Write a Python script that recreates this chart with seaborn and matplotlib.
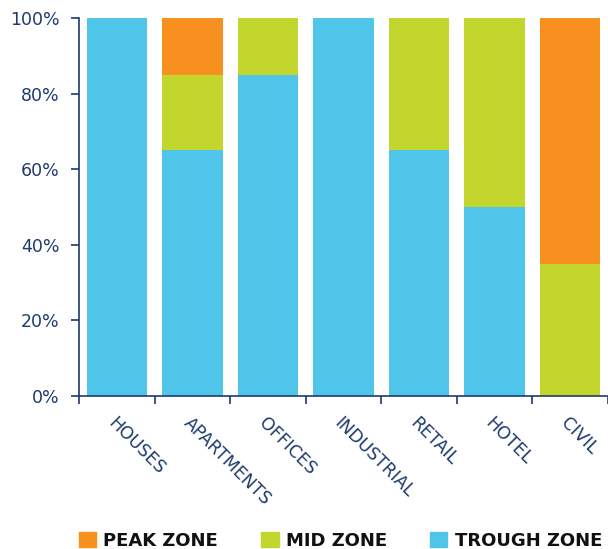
import numpy as np
import pandas as pd
import matplotlib.pyplot as plt
import seaborn as sns
from matplotlib.patches import Patch
from matplotlib.ticker import PercentFormatter, FixedLocator

categories = ["HOUSES", "APARTMENTS", "OFFICES", "INDUSTRIAL", "RETAIL", "HOTEL", "CIVIL"]
trough = [100, 65, 85, 100, 65, 50, 0]
mid = [0, 20, 15, 0, 35, 50, 35]
peak = [0, 15, 0, 0, 0, 0, 65]

c_peak = "#F7901E"
c_mid = "#C2D62E"
c_trough = "#4FC6E9"
navy = "#1E3A6E"

df = pd.DataFrame({"cat": categories, "trough": trough, "mid": mid, "peak": peak})
df["top_mid"] = df["trough"] + df["mid"]
df["top_peak"] = df["top_mid"] + df["peak"]

sns.set_style("white")
plt.rcParams["font.family"] = ["DejaVu Sans"]

fig = plt.figure(figsize=(6.08, 5.49), dpi=100)
ax = fig.add_axes([79 / 608, 153 / 549, 529 / 608, 378 / 549])

# stacked by overdrawing cumulative totals
for col, c in [("top_peak", c_peak), ("top_mid", c_mid), ("trough", c_trough)]:
    sns.barplot(data=df, x="cat", y=col, color=c, width=0.8, saturation=1,
                linewidth=0, edgecolor="none", ax=ax)

ax.set_xlim(-0.5, len(categories) - 0.5)
ax.set_ylim(0, 100)
ax.set_xlabel("")
ax.set_ylabel("")
ax.yaxis.set_major_formatter(PercentFormatter(decimals=0))
ax.set_yticks(range(0, 101, 20))

for s in ["top", "right"]:
    ax.spines[s].set_visible(False)
for s in ["left", "bottom"]:
    ax.spines[s].set_color(navy)
    ax.spines[s].set_linewidth(1.2)

ax.tick_params(axis="y", which="major", direction="out", length=6, width=1.2,
               color=navy, labelcolor=navy, labelsize=12.5, pad=8, left=True)
ax.xaxis.set_minor_locator(FixedLocator(np.arange(-0.5, len(categories), 1)))
ax.tick_params(axis="x", which="minor", direction="out", length=6, width=1.2,
               color=navy, bottom=True)
ax.tick_params(axis="x", which="major", length=0, labelcolor=navy, labelsize=12.5, pad=13)
ax.set_xticks(range(len(categories)))
ax.set_xticklabels(categories, rotation=-45, ha="left", rotation_mode="anchor")

handles = [Patch(color=c_peak, label="PEAK ZONE"),
           Patch(color=c_mid, label="MID ZONE"),
           Patch(color=c_trough, label="TROUGH ZONE")]
leg = fig.legend(handles=handles, loc="lower center", bbox_to_anchor=(0.56, -0.031), ncol=3,
                 frameon=False, handlelength=0.95, handleheight=0.95, handletextpad=0.4,
                 columnspacing=2.4, labelcolor="#111111",
                 prop={"weight": "bold", "size": 13})

fig.savefig("out.png", dpi=100)
